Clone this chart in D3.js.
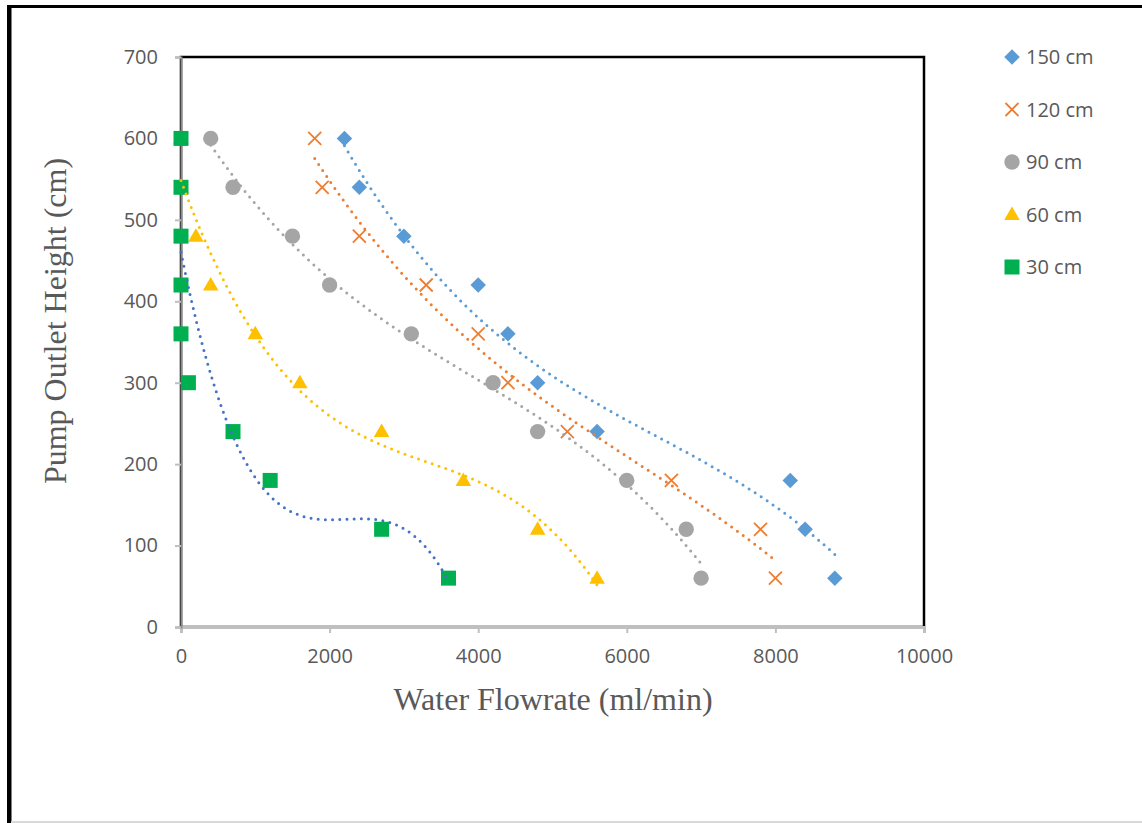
<!DOCTYPE html>
<html>
<head>
<meta charset="utf-8">
<script src="https://cdn.jsdelivr.net/npm/d3@7"></script>
<style>
  body { margin: 0; background: #fff; }
</style>
</head>
<body>
<div id="chart-container"></div>
<script>
// series data
const seriesNames = ['150 cm', '120 cm', '90 cm', '60 cm', '30 cm'];

const flow150 = [2200, 2400, 3000, 4000, 4400, 4800, 5600, 8200, 8400, 8800];
const head150 = [600, 540, 480, 420, 360, 300, 240, 180, 120, 60];

const flow120 = [1800, 1900, 2400, 3300, 4000, 4400, 5200, 6600, 7800, 8000];
const head120 = [600, 540, 480, 420, 360, 300, 240, 180, 120, 60];

const flow90 = [400, 700, 1500, 2000, 3100, 4200, 4800, 6000, 6800, 7000];
const head90 = [600, 540, 480, 420, 360, 300, 240, 180, 120, 60];

// first two 60 cm points sit under the 30 cm squares
const flow60 = [0, 0, 200, 400, 1000, 1600, 2700, 3800, 4800, 5600];
const head60 = [600, 540, 480, 420, 360, 300, 240, 180, 120, 60];

const flow30 = [0, 0, 0, 0, 0, 100, 700, 1200, 2700, 3600];
const head30 = [600, 540, 480, 420, 360, 300, 240, 180, 120, 60];

const xTicks = [0, 2000, 4000, 6000, 8000, 10000];
const yTicks = [0, 100, 200, 300, 400, 500, 600, 700];

const markerColors = ['#5b9bd5', '#ed7d31', '#a5a5a5', '#ffc000', '#00b050'];
const trendColors = ['#5b9bd5', '#ed7d31', '#a5a5a5', '#ffc000', '#4472c4'];
const trendOrder = [3, 3, 3, 3, 3];

const flows = [flow150, flow120, flow90, flow60, flow30];
const heads = [head150, head120, head90, head60, head30];

const series = seriesNames.map((name, i) => ({
  name: name,
  points: flows[i].map((f, k) => ({ x: f, y: heads[i][k] })),
  color: markerColors[i],
  trendColor: trendColors[i],
  order: trendOrder[i],
  idx: i
}));

const width = 1142;
const height = 823;

const svg = d3.select('#chart-container')
  .append('svg')
  .attr('width', width)
  .attr('height', height);

// outer frame
svg.append('rect').attr('x', 7).attr('y', 5).attr('width', width - 7).attr('height', 3).attr('fill', '#000');
svg.append('rect').attr('x', 7).attr('y', 5).attr('width', 4.5).attr('height', height - 5).attr('fill', '#000');
svg.append('rect').attr('x', 11).attr('y', 821).attr('width', width - 11).attr('height', 2).attr('fill', '#d9d9d9');

const xScale = d3.scaleLinear().domain([0, 10000]).range([181, 924]);
const yScale = d3.scaleLinear().domain([0, 700]).range([627, 57]);

// plot area border (top and right show black)
svg.append('rect')
  .attr('x', xScale(0))
  .attr('y', yScale(700))
  .attr('width', xScale(10000) - xScale(0))
  .attr('height', yScale(0) - yScale(700))
  .attr('fill', 'none')
  .attr('stroke', '#000')
  .attr('stroke-width', 2.5);

// axes
const xAxis = d3.axisBottom(xScale).tickValues(xTicks).tickSize(6).tickPadding(16).tickFormat(d3.format('d'));
const yAxis = d3.axisLeft(yScale).tickValues(yTicks).tickSize(6).tickPadding(17).tickFormat(d3.format('d'));

const gx = svg.append('g')
  .attr('class', 'x-axis')
  .attr('transform', `translate(0, ${yScale(0)})`)
  .call(xAxis);

const gy = svg.append('g')
  .attr('class', 'y-axis')
  .attr('transform', `translate(${xScale(0)}, 0)`)
  .call(yAxis);

gx.select('.domain').attr('stroke', '#bfbfbf').attr('stroke-width', 3);
gy.select('.domain').attr('stroke', '#8c8c8c').attr('stroke-width', 2);
[gx, gy].forEach(g => {
  g.selectAll('.tick line').attr('stroke', '#bfbfbf').attr('stroke-width', 2);
  g.selectAll('.tick text')
    .attr('fill', '#595959')
    .style('font-family', '"Open Sans", sans-serif')
    .style('font-size', '20px');
});

// axis titles
svg.append('text')
  .attr('x', 553)
  .attr('y', 710)
  .attr('text-anchor', 'middle')
  .attr('fill', '#595959')
  .style('font-family', '"Liberation Serif", "Times New Roman", serif')
  .style('font-size', '32px')
  .text('Water Flowrate (ml/min)');

svg.append('text')
  .attr('transform', 'translate(66, 321) rotate(-90)')
  .attr('text-anchor', 'middle')
  .attr('fill', '#595959')
  .style('font-family', '"Liberation Serif", "Times New Roman", serif')
  .style('font-size', '32px')
  .text('Pump Outlet Height (cm)');

// marker shapes
const diamond = d3.symbol().type(d3.symbolSquare).size(120)();
const square = d3.symbol().type(d3.symbolSquare).size(225)();
const circle = d3.symbol().type(d3.symbolCircle).size(185)();
const triangle = d3.symbol().type(d3.symbolTriangle).size(105)();
const cross = 'M-6.5,-6.5L6.5,6.5M-6.5,6.5L6.5,-6.5';

function drawMarker(g, i, x, y) {
  if (i === 0) {
    g.append('path').attr('d', diamond).attr('fill', markerColors[0])
      .attr('transform', `translate(${x},${y}) rotate(45)`);
  } else if (i === 1) {
    g.append('path').attr('d', cross).attr('fill', 'none').attr('stroke', markerColors[1])
      .attr('stroke-width', 1.8).attr('transform', `translate(${x},${y})`);
  } else if (i === 2) {
    g.append('path').attr('d', circle).attr('fill', markerColors[2])
      .attr('transform', `translate(${x},${y})`);
  } else if (i === 3) {
    g.append('path').attr('d', triangle).attr('fill', markerColors[3])
      .attr('transform', `translate(${x},${y + 1})`);
  } else {
    g.append('path').attr('d', square).attr('fill', markerColors[4])
      .attr('transform', `translate(${x},${y})`);
  }
}

const markersG = svg.append('g').attr('class', 'markers');
series.forEach(s => {
  s.points.forEach(p => drawMarker(markersG, s.idx, xScale(p.x), yScale(p.y)));
});

// polynomial trendlines (least squares, x in thousands)
function polyFit(xs, ys, order) {
  const n = order + 1;
  const A = Array.from({ length: n }, () => new Array(n + 1).fill(0));
  xs.forEach((x, k) => {
    for (let i = 0; i < n; i++) {
      for (let j = 0; j < n; j++) A[i][j] += Math.pow(x, i + j);
      A[i][n] += ys[k] * Math.pow(x, i);
    }
  });
  for (let c = 0; c < n; c++) {
    let p = c;
    for (let r = c + 1; r < n; r++) if (Math.abs(A[r][c]) > Math.abs(A[p][c])) p = r;
    [A[c], A[p]] = [A[p], A[c]];
    for (let r = 0; r < n; r++) {
      if (r === c) continue;
      const f = A[r][c] / A[c][c];
      for (let k = c; k <= n; k++) A[r][k] -= f * A[c][k];
    }
  }
  return A.map((row, i) => row[n] / row[i]);
}

const line = d3.line().x(d => xScale(d.x)).y(d => yScale(d.y));
const trendG = svg.append('g').attr('class', 'trendlines');
series.forEach(s => {
  const xs = s.points.map(p => p.x / 1000);
  const ys = s.points.map(p => p.y);
  const coef = polyFit(xs, ys, s.order);
  const x0 = d3.min(xs), x1 = d3.max(xs);
  const curve = d3.range(0, 101).map(k => {
    const xv = x0 + (x1 - x0) * k / 100;
    const yv = coef.reduce((acc, c, i) => acc + c * Math.pow(xv, i), 0);
    return { x: xv * 1000, y: yv };
  });
  trendG.append('path')
    .datum(curve)
    .attr('d', line)
    .attr('fill', 'none')
    .attr('stroke', s.trendColor)
    .attr('stroke-width', 3)
    .attr('stroke-linecap', 'round')
    .attr('stroke-dasharray', '0 7.2');
});

// legend
const legend = svg.append('g').attr('class', 'legend');
const legendY = [57, 109.5, 162, 214.5, 267];
series.forEach((s, i) => {
  drawMarker(legend, i, 1012, legendY[i]);
  legend.append('text')
    .attr('x', 1026)
    .attr('y', legendY[i])
    .attr('dy', '0.35em')
    .attr('fill', '#595959')
    .style('font-family', '"Open Sans", sans-serif')
    .style('font-size', '20px')
    .text(s.name);
});
</script>
</body>
</html>
